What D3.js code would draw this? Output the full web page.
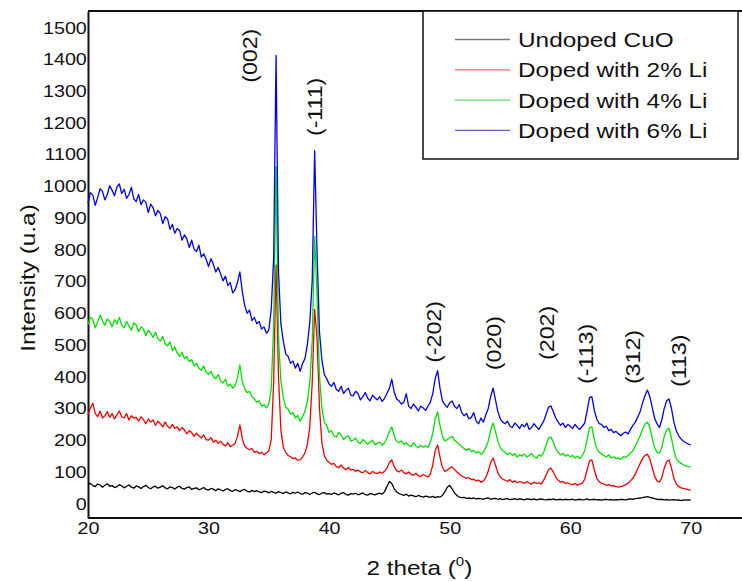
<!DOCTYPE html>
<html>
<head>
<meta charset="utf-8">
<script src="https://cdn.jsdelivr.net/npm/d3@7"></script>
<style>
  html, body { margin: 0; padding: 0; background: #fff; }
  svg { display: block; }
  text { font-family: "Liberation Sans", Arial, Helvetica, sans-serif; fill: #111; }
</style>
</head>
<body>
<svg id="chart" width="742" height="581"></svg>
<script>
// XRD patterns, sampled every 0.2 degrees from 2θ = 20 to 70
const thetaStart = 20;
const thetaStep = 0.2;

const undoped = [
  58, 62, 55, 52, 60, 57, 50, 56, 61, 53,
  55, 49, 52, 58, 54, 48, 53, 57, 50, 47,
  54, 51, 46, 52, 56, 49, 45, 51, 53, 47,
  50, 55, 48, 45, 51, 49, 44, 50, 53, 46,
  44, 49, 51, 43, 46, 48, 42, 45, 49, 43,
  41, 46, 44, 39, 45, 42, 38, 43, 45, 39,
  37, 42, 40, 36, 41, 43, 37, 35, 40, 36,
  39, 35, 33, 38, 36, 32, 37, 34, 31, 36,
  33, 30, 35, 32, 29, 34, 31, 35, 30, 28,
  33, 31, 27, 32, 34, 29, 27, 31, 33, 28,
  30, 27, 32, 29, 26, 31, 33, 27, 25, 30,
  28, 31, 26, 29, 32, 27, 25, 30, 28, 26,
  29, 31, 28, 36, 52, 68, 62, 45, 35, 30,
  27, 24, 28, 22, 25, 23, 20, 24, 21, 19,
  22, 20, 18, 21, 17, 20, 19, 24, 35, 50,
  56, 45, 32, 24, 19, 17, 18, 15, 16, 14,
  16, 13, 15, 14, 12, 15, 16, 12, 14, 15,
  12, 14, 11, 13, 14, 11, 12, 14, 11, 13,
  12, 10, 13, 12, 11, 13, 10, 12, 13, 11,
  10, 12, 11, 13, 10, 11, 12, 10, 12, 11,
  11, 12, 9, 11, 12, 10, 11, 13, 10, 11,
  12, 10, 11, 9, 11, 12, 10, 11, 9, 11,
  10, 12, 11, 10, 12, 13, 12, 14, 15, 16,
  17, 19, 20, 18, 16, 14, 12, 11, 12, 10,
  11, 9, 10, 11, 9, 10, 8, 10, 9, 10,
  9
];

const li2 = [
  278, 300, 315, 282, 272, 290, 268, 275, 288, 270,
  282, 265, 278, 290, 272, 268, 282, 262, 275, 268,
  270, 258, 272, 262, 250, 265, 255, 262, 245, 258,
  250, 240, 255, 242, 236, 248, 235, 240, 228, 238,
  230, 218, 228, 222, 210, 220, 212, 205, 215, 200,
  198, 206, 192, 198, 188, 195, 185, 180, 190, 178,
  182, 188, 210, 246, 202, 180, 172, 168, 172, 160,
  163, 156, 160, 152, 158, 165, 200, 380, 750, 400,
  230, 175, 160, 150, 146, 140, 142, 135, 136, 145,
  158, 185, 240, 380, 610, 520, 300, 190, 150, 135,
  128, 122, 125, 115, 112, 120, 110, 105, 112, 104,
  106, 100, 104, 98, 95, 103, 96, 92, 100, 95,
  93, 98, 94, 100, 110, 128, 136, 115, 102, 98,
  104, 96, 92, 98, 90, 88, 94, 86, 84, 90,
  86, 82, 92, 120, 165, 183, 145, 112, 100, 104,
  110, 114, 106, 98, 92, 85, 82, 78, 80, 74,
  75, 70, 72, 66, 70, 80, 100, 128, 142, 120,
  95, 82, 76, 72, 68, 74, 66, 70, 64, 68,
  65, 62, 68, 63, 60, 66, 62, 64, 60, 72,
  88, 105, 110, 98, 82, 72, 66, 68, 62, 64,
  60, 58, 62, 56, 60, 62, 75, 105, 132, 136,
  105, 78, 68, 62, 60, 56, 58, 54, 55, 52,
  50, 52, 54, 58, 62, 70, 78, 92, 108, 125,
  140, 150, 154, 140, 112, 85, 70, 66, 80, 110,
  130, 136, 110, 78, 60, 52, 48, 46, 44, 42,
  41
];

const li4 = [
  562, 585, 578, 552, 570, 592, 575, 560, 580, 572,
  555, 578, 565, 585, 560, 552, 572, 558, 545, 568,
  560, 540, 555, 548, 528, 545, 535, 522, 538, 518,
  510, 525, 502, 495, 508, 480, 492, 472, 462, 475,
  455, 462, 445, 452, 432, 440, 425, 418, 432, 412,
  405, 415, 398, 392, 405, 385, 378, 390, 368, 375,
  362, 370, 395, 435, 382, 360, 348, 352, 335, 328,
  318, 322, 305, 310, 300, 312, 360, 560, 1060, 520,
  385, 332, 302, 296, 280, 285, 268, 276, 258, 272,
  290, 320, 380, 510, 840, 650, 400, 300, 255, 245,
  222, 228, 212, 208, 222, 215, 200, 208, 212, 196,
  198, 205, 192, 188, 200, 194, 185, 192, 198, 184,
  188, 192, 182, 190, 205, 225, 240, 212, 195, 190,
  196, 185, 190, 182, 178, 190, 180, 174, 182, 176,
  180, 176, 192, 220, 265, 287, 245, 210, 196, 200,
  205, 210, 198, 192, 185, 178, 172, 166, 172, 162,
  166, 158, 162, 154, 160, 175, 195, 230, 252, 225,
  195, 175, 165, 160, 152, 158, 150, 156, 145, 152,
  148, 155, 145, 150, 156, 146, 142, 152, 148, 160,
  182, 205, 208, 192, 172, 160, 152, 156, 148, 152,
  146, 150, 142, 148, 140, 150, 165, 200, 238, 240,
  200, 172, 160, 155, 150, 145, 152, 142, 146, 140,
  142, 138, 146, 144, 150, 158, 165, 180, 195, 212,
  232, 248, 255, 240, 205, 175, 160, 157, 175, 210,
  230, 236, 205, 165, 140, 130, 125, 120, 117, 115,
  114
];

const li6 = [
  945, 978, 970, 938, 962, 990, 982, 955, 972, 1000,
  985, 968, 996, 1005, 975, 988, 960, 972, 995, 958,
  950, 972, 940, 955, 948, 915, 942, 930, 905, 922,
  912, 880, 902, 895, 862, 878, 850, 865, 858, 828,
  845, 832, 805, 828, 800, 792, 812, 775, 785, 768,
  745, 770, 752, 728, 742, 722, 700, 715, 685, 695,
  662, 672, 695, 728, 665, 622, 598, 608, 575, 585,
  565, 572, 548, 555, 535, 545, 610, 770, 1410, 730,
  565, 510, 470, 462, 440, 448, 425, 440, 415, 440,
  455, 500, 570, 700, 1110, 790, 540, 450, 405, 392,
  375, 368, 380, 358, 352, 368, 345, 355, 362, 340,
  338, 352, 345, 325, 335, 348, 330, 322, 340, 332,
  325, 335, 320, 330, 345, 362, 390, 350, 328, 322,
  312, 318, 345, 305, 298, 312, 302, 290, 305, 300,
  292, 305, 318, 345, 392, 417, 362, 322, 310, 302,
  315, 322, 305, 298, 310, 285, 275, 282, 265, 270,
  285, 258, 250, 268, 255, 278, 298, 335, 362, 325,
  288, 265, 255, 250, 258, 242, 238, 252, 245, 235,
  248, 240, 252, 232, 238, 250, 240, 232, 245, 258,
  280, 302, 306, 288, 268, 255, 245, 252, 238, 248,
  242, 235, 248, 238, 232, 242, 252, 290, 332, 335,
  292, 265, 250, 248, 238, 242, 228, 232, 222, 226,
  218, 212, 220, 224, 218, 232, 245, 255, 270, 288,
  315, 338, 356, 336, 302, 268, 250, 238, 262, 298,
  322, 328, 298, 255, 228, 212, 202, 195, 190, 186,
  183
];

const seriesNames = ["Undoped CuO", "Doped with 2% Li", "Doped with 4% Li", "Doped with 6% Li"];
const seriesColors = ["#000000", "#ee0000", "#00e000", "#0000ee"];
const legendColors = ["#777777", "#e07070", "#60e060", "#6060d0"];

const xTickValues = [20, 30, 40, 50, 60, 70];
const yTickValues = [0, 100, 200, 300, 400, 500, 600, 700, 800, 900, 1000, 1100, 1200, 1300, 1400, 1500];

// Miller indices and where their labels sit (2θ, intensity at label centre)
const peakLabels = ["(002)", "(-111)", "(-202)", "(020)", "(202)", "(-113)", "(312)", "(113)"];
const peakLabelTheta = [33.6, 39.0, 48.86, 53.83, 58.23, 61.46, 65.36, 69.17];
const peakLabelLevel = [1409, 1248, 539, 504, 536, 470, 460, 448];

const stretch = 1.16;   // the typeface is set slightly wide

const svg = d3.select("#chart");

const x = d3.scaleLinear().domain([20, 74.5]).range([88, 745]);
const y = d3.scaleLinear().domain([-47, 1550]).range([518, 11]);

// top edge of the frame
svg.append("line")
  .attr("x1", x.range()[0]).attr("x2", 742)
  .attr("y1", y.range()[1]).attr("y2", y.range()[1])
  .attr("stroke", "#111").attr("stroke-width", 2);

// axes
const xAxis = svg.append("g")
  .attr("transform", `translate(0,${y.range()[0]})`)
  .call(d3.axisBottom(x).tickValues(xTickValues).tickFormat(d3.format("d"))
    .tickSize(0).tickSizeOuter(0).tickPadding(3));
const yAxis = svg.append("g")
  .attr("transform", `translate(${x.range()[0]},0)`)
  .call(d3.axisLeft(y).tickValues(yTickValues).tickFormat(d3.format("d"))
    .tickSize(0).tickSizeOuter(0).tickPadding(1));

[xAxis, yAxis].forEach(g => {
  g.select(".domain").attr("stroke", "#111").attr("stroke-width", 2);
  g.selectAll("text")
    .attr("font-size", 17)
    .attr("fill", "#111")
    .attr("font-family", '"Liberation Sans", Arial, sans-serif')
    .attr("transform", `scale(${stretch},1)`);
});
xAxis.selectAll("text").attr("dy", "0.78em");
yAxis.selectAll("text").attr("dy", "0.36em");
xAxis.select(".domain").attr("d", `M${x.range()[0]},0H742`);

// patterns
const line = d3.line()
  .x((d, i) => x(thetaStart + i * thetaStep))
  .y(d => y(d));

const allSeries = [undoped, li2, li4, li6];
svg.append("g")
  .selectAll("path")
  .data(allSeries)
  .join("path")
  .attr("d", line)
  .attr("fill", "none")
  .attr("stroke", (d, i) => seriesColors[i])
  .attr("stroke-width", 1.3)
  .attr("stroke-linejoin", "round");

// Miller index labels
svg.append("g")
  .selectAll("text")
  .data(peakLabels)
  .join("text")
  .attr("transform", (d, i) => `translate(${x(peakLabelTheta[i])},${y(peakLabelLevel[i])}) rotate(-90) scale(${stretch},1)`)
  .attr("text-anchor", "middle")
  .attr("dy", "0.27em")
  .attr("font-size", 20)
  .text(d => d);

// legend
const legend = svg.append("g");
legend.append("rect")
  .attr("x", 423).attr("y", 11).attr("width", 315).attr("height", 148)
  .attr("fill", "#fff").attr("stroke", "#111").attr("stroke-width", 1.5);
const rows = legend.selectAll("g.row")
  .data(seriesNames)
  .join("g")
  .attr("class", "row")
  .attr("transform", (d, i) => `translate(0,${47 + i * 30.3})`);
rows.append("line")
  .attr("x1", 455).attr("x2", 510).attr("y1", -7.5).attr("y2", -7.5)
  .attr("stroke", (d, i) => legendColors[i]).attr("stroke-width", 1.3);
rows.append("text")
  .attr("transform", `translate(518,0) scale(${stretch},1)`)
  .attr("font-size", 21)
  .text(d => d);

// axis titles
const xTitle = svg.append("text")
  .attr("transform", `translate(${(x(20) + x(70)) / 2 + 30},575) scale(${stretch},1)`)
  .attr("text-anchor", "middle")
  .attr("font-size", 21);
xTitle.append("tspan").text("2 theta (");
xTitle.append("tspan").attr("font-size", 13).attr("dy", -9).text("0");
xTitle.append("tspan").attr("dy", 9).text(")");

svg.append("text")
  .attr("transform", `translate(35,278) rotate(-90) scale(${stretch},1)`)
  .attr("text-anchor", "middle")
  .attr("font-size", 21)
  .text("Intensity (u.a)");
</script>
</body>
</html>
